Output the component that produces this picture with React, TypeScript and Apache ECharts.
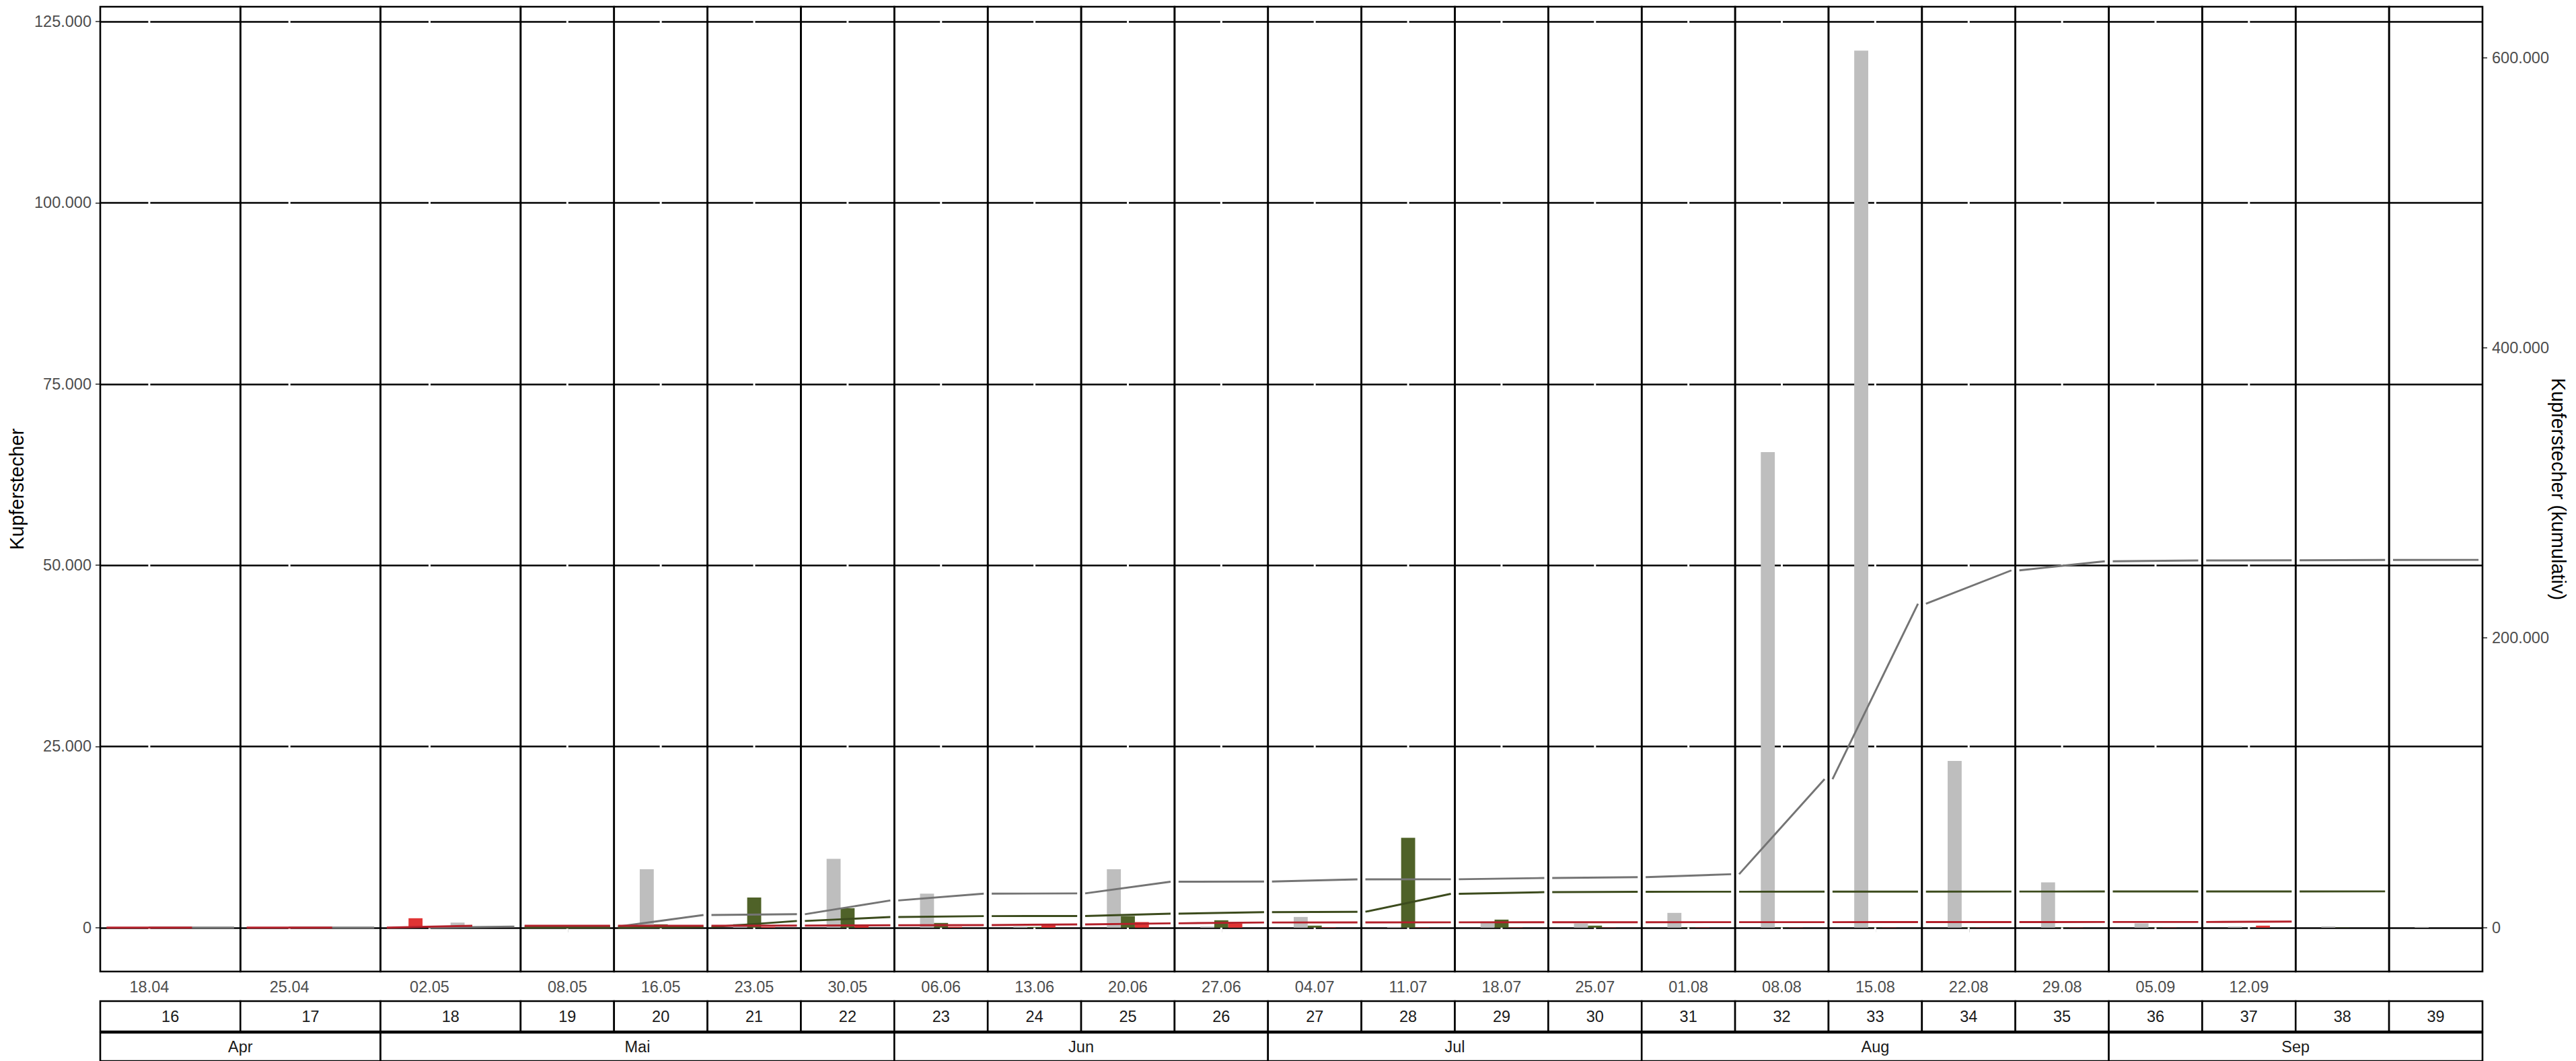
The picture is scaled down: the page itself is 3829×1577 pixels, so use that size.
import React, { useEffect, useRef } from 'react';
import * as echarts from 'echarts';

// ---------------- data ----------------
const weeks = [16, 17, 18, 19, 20, 21, 22, 23, 24, 25, 26, 27, 28, 29, 30, 31, 32, 33, 34, 35, 36, 37, 38, 39];
const weekMonths = ['Apr', 'Apr', 'Mai', 'Mai', 'Mai', 'Mai', 'Mai', 'Jun', 'Jun', 'Jun', 'Jun', 'Jul', 'Jul', 'Jul', 'Jul', 'Aug', 'Aug', 'Aug', 'Aug', 'Aug', 'Sep', 'Sep', 'Sep', 'Sep'];
const dateLabels = ['18.04', '25.04', '02.05', '08.05', '16.05', '23.05', '30.05', '06.06', '13.06', '20.06', '27.06', '04.07', '11.07', '18.07', '25.07', '01.08', '08.08', '15.08', '22.08', '29.08', '05.09', '12.09', '', ''];
// weeks in which the traps were read on separate days
const staggeredWeeks = [16, 17, 18];

const grayCounts: (number | null)[] = [0, 0, 700, 0, 8050, 530, 9490, 4700, 160, 8050, 150, 1480, 100, 835, 580, 2040, 65600, 121000, 23000, 6250, 590, 150, 180, 100];
const greenCounts: (number | null)[] = [null, null, null, 0, 460, 4170, 2690, 650, 100, 1600, 1020, 280, 12400, 1110, 280, 40, 40, 40, 40, 40, 40, 0, 40, null];
const redCounts: (number | null)[] = [0, 0, 1300, 0, 0, 100, 280, 120, 440, 770, 580, 50, 40, 40, 30, 40, 30, 30, 30, 30, 30, 280, null, null];

const leftTicks = [0, 25000, 50000, 75000, 100000, 125000];
const rightTicks = [0, 200000, 400000, 600000];
const CUM_FACTOR = 5; // secondary axis = 5 x primary

// ---------------- styles ----------------
const FONT = '"Liberation Sans", Arial, Helvetica, sans-serif';
const COL_GRAY_BAR = '#BEBEBE';
const COL_GREEN_BAR = '#4F6228';
const COL_RED_BAR = '#E03434';
const COL_GRAY_LINE = '#747474';
const COL_GREEN_LINE = '#3C4B1D';
const COL_RED_LINE = '#B3202A';
const BAR_W = 0.3;
const HALF_SEG = 0.915;
const RULE_W = 2.6;

// ---------------- layout derived from data ----------------
type Panel = { start: number; end: number; redX: number; grayX: number; staggered: boolean };
const panels: Panel[] = [];
let acc = 0;
weeks.forEach((w) => {
  const staggered = staggeredWeeks.includes(w);
  const span = staggered ? 3 : 2;
  panels.push({
    start: acc,
    end: acc + span,
    redX: acc + (staggered ? 1.05 : 1),
    grayX: acc + (staggered ? 1.95 : 1),
    staggered,
  });
  acc += span;
});
const X_MAX = acc;

const allCounts = [...grayCounts, ...greenCounts, ...redCounts].filter((v) => v !== null) as number[];
const dataMax = Math.max(...allCounts);
const PAD = dataMax * 0.05;
const Y_MIN = -PAD;
const Y_MAX = dataMax + PAD;

const tickIdx = dateLabels.map((l, i) => (l ? i : -1)).filter((i) => i >= 0);
const tickXs = tickIdx.map((i) => panels[i].redX);

const fmt = (v: number) => String(Math.round(v)).replace(/\B(?=(\d{3})+(?!\d))/g, '.');

function barData(counts: (number | null)[], slot: number, which: 'red' | 'gray') {
  const out: number[][] = [];
  counts.forEach((v, i) => {
    if (v === null) return;
    const p = panels[i];
    const base = which === 'gray' ? p.grayX : p.redX;
    const off = p.staggered ? -BAR_W : slot * BAR_W;
    out.push([base + off, v]);
  });
  return out;
}

function segData(counts: (number | null)[], which: 'red' | 'gray') {
  const out: number[][] = [];
  let cum = 0;
  counts.forEach((v, i) => {
    if (v === null) return;
    const p = panels[i];
    const x = which === 'gray' ? p.grayX : p.redX;
    const next = cum + v;
    out.push([x - HALF_SEG, cum, x + HALF_SEG, next]);
    cum = next;
  });
  return out;
}

const monthGroups: { name: string; start: number; end: number }[] = [];
weekMonths.forEach((m, i) => {
  const last = monthGroups[monthGroups.length - 1];
  if (last && last.name === m) last.end = panels[i].end;
  else monthGroups.push({ name: m, start: panels[i].start, end: panels[i].end });
});

function barRender(color: string) {
  return (params: any, api: any) => {
    const x = api.value(0);
    const v = api.value(1);
    const p0 = api.coord([x - BAR_W / 2, 0]);
    const p1 = api.coord([x + BAR_W / 2, v]);
    return {
      type: 'rect',
      shape: { x: p0[0], y: p1[1], width: p1[0] - p0[0], height: p0[1] - p1[1] },
      style: { fill: color },
    };
  };
}

function lineRender(color: string) {
  return (params: any, api: any) => {
    const a = api.coord([api.value(0), api.value(1)]);
    const b = api.coord([api.value(2), api.value(3)]);
    return {
      type: 'line',
      shape: { x1: a[0], y1: a[1], x2: b[0], y2: b[1] },
      style: { stroke: color, lineWidth: 2.9, lineCap: 'butt' },
    };
  };
}

function stripRender(labels: string[]) {
  return (params: any, api: any) => {
    const a = api.coord([api.value(0), 1]);
    const b = api.coord([api.value(1), 0]);
    return {
      type: 'group',
      children: [
        {
          type: 'rect',
          shape: { x: a[0], y: a[1], width: b[0] - a[0], height: b[1] - a[1] },
          style: { fill: '#FFFFFF', stroke: '#000000', lineWidth: RULE_W },
        },
        {
          type: 'text',
          x: (a[0] + b[0]) / 2,
          y: (a[1] + b[1]) / 2,
          style: {
            text: labels[params.dataIndex],
            fill: '#1A1A1A',
            fontSize: 23.5,
            fontFamily: FONT,
            align: 'center',
            verticalAlign: 'middle',
          },
        },
      ],
    };
  };
}

const GRID_LEFT = 149;
const GRID_RIGHT = 139;

function buildOption() {
  const hiddenX = (gi: number) => ({ gridIndex: gi, type: 'value', min: 0, max: X_MAX, show: false });
  const hiddenY = (gi: number) => ({ gridIndex: gi, type: 'value', min: 0, max: 1, show: false });
  return {
    animation: false,
    backgroundColor: '#FFFFFF',
    grid: [
      { left: GRID_LEFT, right: GRID_RIGHT, top: 10, height: 1434 },
      { left: GRID_LEFT, right: GRID_RIGHT, top: 1488, height: 45 },
      { left: GRID_LEFT, right: GRID_RIGHT, top: 1535, height: 45 },
    ],
    xAxis: [
      {
        gridIndex: 0,
        type: 'value',
        min: 0,
        max: X_MAX,
        axisLine: { show: false },
        splitLine: { show: false },
        axisTick: { show: true, length: 7, customValues: tickXs, lineStyle: { color: '#333333', width: 1.6 } },
        axisLabel: {
          customValues: tickXs,
          color: '#4D4D4D',
          fontSize: 23.5,
          fontFamily: FONT,
          margin: 11,
          formatter: (v: number) => {
            const k = tickXs.findIndex((t) => Math.abs(t - v) < 1e-6);
            return k >= 0 ? dateLabels[tickIdx[k]] : '';
          },
        },
      },
      hiddenX(1),
      hiddenX(2),
    ],
    yAxis: [
      {
        gridIndex: 0,
        type: 'value',
        position: 'left',
        min: Y_MIN,
        max: Y_MAX,
        axisLine: { show: false },
        axisTick: { show: true, length: 7, customValues: leftTicks, lineStyle: { color: '#333333', width: 1.6 } },
        axisLabel: { customValues: leftTicks, formatter: fmt, color: '#4D4D4D', fontSize: 23.5, fontFamily: FONT, margin: 13 },
        splitLine: { show: true, lineStyle: { color: '#000000', width: RULE_W } },
      },
      {
        gridIndex: 0,
        type: 'value',
        position: 'right',
        min: Y_MIN * CUM_FACTOR,
        max: Y_MAX * CUM_FACTOR,
        axisLine: { show: false },
        axisTick: { show: true, length: 7, customValues: rightTicks, lineStyle: { color: '#333333', width: 1.6 } },
        axisLabel: { customValues: rightTicks, formatter: fmt, color: '#4D4D4D', fontSize: 23.5, fontFamily: FONT, margin: 14 },
        splitLine: { show: false },
      },
      hiddenY(1),
      hiddenY(2),
    ],
    graphic: [
      {
        type: 'text',
        x: 25,
        y: 727,
        rotation: Math.PI / 2,
        style: { text: 'Kupferstecher', fill: '#000000', fontSize: 29, fontFamily: FONT, align: 'center', verticalAlign: 'middle' },
      },
      {
        type: 'text',
        x: 3803,
        y: 727,
        rotation: -Math.PI / 2,
        style: { text: 'Kupferstecher (kumulativ)', fill: '#000000', fontSize: 29, fontFamily: FONT, align: 'center', verticalAlign: 'middle' },
      },
    ],
    series: [
      // white vertical major x grid (cuts the horizontal grid lines)
      {
        type: 'custom',
        xAxisIndex: 0,
        yAxisIndex: 0,
        z: 1,
        silent: true,
        data: tickXs.map((x) => [x, Y_MIN, Y_MAX]),
        encode: { x: 0, y: [1, 2] },
        renderItem: (params: any, api: any) => {
          const a = api.coord([api.value(0), api.value(1)]);
          const b = api.coord([api.value(0), api.value(2)]);
          return { type: 'line', shape: { x1: a[0], y1: a[1], x2: b[0], y2: b[1] }, style: { stroke: '#FFFFFF', lineWidth: 3 } };
        },
      },
      // bars
      { type: 'custom', name: 'grau', xAxisIndex: 0, yAxisIndex: 0, z: 2, data: barData(grayCounts, -1, 'gray'), encode: { x: 0, y: 1 }, renderItem: barRender(COL_GRAY_BAR) },
      { type: 'custom', name: 'gruen', xAxisIndex: 0, yAxisIndex: 0, z: 2, data: barData(greenCounts, 0, 'red'), encode: { x: 0, y: 1 }, renderItem: barRender(COL_GREEN_BAR) },
      { type: 'custom', name: 'rot', xAxisIndex: 0, yAxisIndex: 0, z: 2, data: barData(redCounts, 1, 'red'), encode: { x: 0, y: 1 }, renderItem: barRender(COL_RED_BAR) },
      // cumulative lines
      { type: 'custom', name: 'grau kum', xAxisIndex: 0, yAxisIndex: 1, z: 3, data: segData(grayCounts, 'gray'), encode: { x: [0, 2], y: [1, 3] }, renderItem: lineRender(COL_GRAY_LINE) },
      { type: 'custom', name: 'gruen kum', xAxisIndex: 0, yAxisIndex: 1, z: 3, data: segData(greenCounts, 'red'), encode: { x: [0, 2], y: [1, 3] }, renderItem: lineRender(COL_GREEN_LINE) },
      { type: 'custom', name: 'rot kum', xAxisIndex: 0, yAxisIndex: 1, z: 3, data: segData(redCounts, 'red'), encode: { x: [0, 2], y: [1, 3] }, renderItem: lineRender(COL_RED_LINE) },
      // panel borders
      {
        type: 'custom',
        xAxisIndex: 0,
        yAxisIndex: 0,
        z: 4,
        silent: true,
        data: panels.map((p) => [p.start, p.end, Y_MIN, Y_MAX]),
        encode: { x: [0, 1], y: [2, 3] },
        renderItem: (params: any, api: any) => {
          const a = api.coord([api.value(0), api.value(3)]);
          const b = api.coord([api.value(1), api.value(2)]);
          return {
            type: 'rect',
            shape: { x: a[0], y: a[1], width: b[0] - a[0], height: b[1] - a[1] },
            style: { fill: 'none', stroke: '#000000', lineWidth: RULE_W },
          };
        },
      },
      // week strip
      {
        type: 'custom',
        xAxisIndex: 1,
        yAxisIndex: 2,
        silent: true,
        data: panels.map((p) => [p.start, p.end]),
        encode: { x: [0, 1] },
        renderItem: stripRender(weeks.map(String)),
      },
      // month strip
      {
        type: 'custom',
        xAxisIndex: 2,
        yAxisIndex: 3,
        silent: true,
        data: monthGroups.map((m) => [m.start, m.end]),
        encode: { x: [0, 1] },
        renderItem: stripRender(monthGroups.map((m) => m.name)),
      },
    ],
  };
}

export default function App() {
  const ref = useRef<HTMLDivElement>(null);
  useEffect(() => {
    document.body.style.margin = '0';
    document.body.style.overflow = 'hidden';
    if (!ref.current) return;
    const chart = echarts.init(ref.current, undefined, { renderer: 'svg' });
    chart.setOption(buildOption() as any);
    return () => chart.dispose();
  }, []);
  return <div ref={ref} style={{ position: 'absolute', left: 0, top: 0, width: 3829, height: 1577 }} />;
}
